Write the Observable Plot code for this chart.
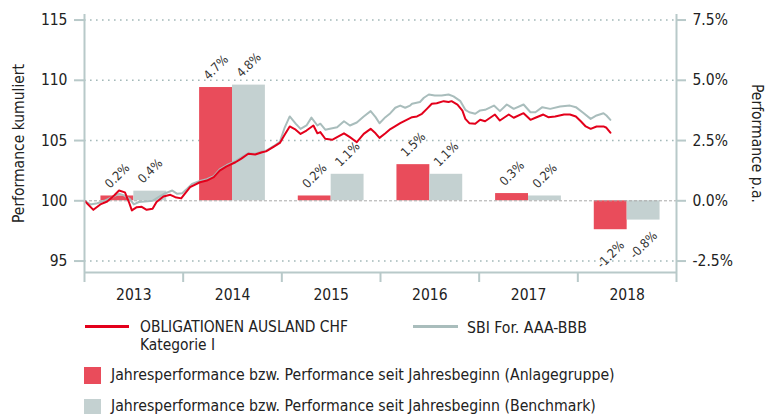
<!DOCTYPE html>
<html><head><meta charset="utf-8">
<script src="https://cdn.jsdelivr.net/npm/d3@7"></script>
<script src="https://cdn.jsdelivr.net/npm/@observablehq/plot@0.6"></script>
<style>
body{margin:0;background:#fff;font-family:"DejaVu Sans Condensed","DejaVu Sans",sans-serif;color:#222}
#wrap{position:relative;width:765px;height:414px;overflow:hidden}
#chart svg{display:block}
.lg{position:absolute;font-size:15.7px;line-height:16px;height:16px;white-space:nowrap;color:#222}
.sw{position:absolute}
</style></head><body><div id="wrap"><div id="chart"></div>
<div class="sw" style="left:85px;top:325px;width:44px;height:3px;background:#e3001b"></div>
<div class="lg" style="left:140px;top:318.5px;font-size:15.4px">OBLIGATIONEN AUSLAND CHF</div>
<div class="lg" style="left:140px;top:336.5px;font-size:15.4px">Kategorie I</div>
<div class="sw" style="left:413px;top:325px;width:45px;height:3px;background:#a9bdbc"></div>
<div class="lg" style="left:467px;top:319.5px">SBI For. AAA-BBB</div>
<div class="sw" style="left:84px;top:367px;width:17px;height:17px;background:#e94c5b"></div>
<div class="lg" style="left:111px;top:367px">Jahresperformance bzw. Performance seit Jahresbeginn (Anlagegruppe)</div>
<div class="sw" style="left:84px;top:399px;width:17px;height:17px;background:#c4d1d1"></div>
<div class="lg" style="left:111px;top:398px">Jahresperformance bzw. Performance seit Jahresbeginn (Benchmark)</div>
</div>
<script>
// ---- data ----
const years = [2013, 2014, 2015, 2016, 2017, 2018];
const fundYearly = [0.2, 4.7, 0.2, 1.5, 0.3, -1.2];   // % (Anlagegruppe)
const benchYearly = [0.4, 4.8, 1.1, 1.1, 0.2, -0.8];  // % (Benchmark)
const leftTicks = [95, 100, 105, 110, 115];
const rightTicksPct = [-2.5, 0, 2.5, 5, 7.5];

// cumulative performance [fractional year, index]
const fundSeries = [
 [2013.00,100.0],[2013.09,99.25],[2013.16,99.7],[2013.23,99.94],[2013.30,100.44],[2013.35,100.85],[2013.41,100.7],
 [2013.45,99.9],[2013.48,99.2],[2013.53,99.47],[2013.58,99.5],[2013.63,99.25],[2013.69,99.34],[2013.73,99.9],
 [2013.80,100.35],[2013.87,100.5],[2013.92,100.3],[2013.98,100.2],[2014.07,101.13],[2014.17,101.54],[2014.24,101.68],
 [2014.31,101.96],[2014.37,102.5],[2014.44,102.85],[2014.53,103.2],[2014.59,103.5],[2014.66,103.9],[2014.73,103.84],
 [2014.80,104.03],[2014.84,104.1],[2014.92,104.5],[2014.98,104.8],[2015.03,105.5],[2015.08,106.17],[2015.14,105.9],
 [2015.19,105.55],[2015.25,105.83],[2015.32,106.25],[2015.36,105.6],[2015.39,105.7],[2015.44,105.15],[2015.51,105.06],
 [2015.56,105.28],[2015.63,105.6],[2015.69,105.28],[2015.76,104.86],[2015.83,105.55],[2015.90,105.97],[2015.95,105.6],
 [2015.99,105.22],[2016.05,105.6],[2016.10,105.95],[2016.13,106.1],[2016.20,106.44],[2016.25,106.66],[2016.32,106.94],
 [2016.37,107.0],[2016.42,107.22],[2016.47,107.63],[2016.52,108.05],[2016.57,108.1],[2016.64,108.27],[2016.69,108.2],
 [2016.72,108.27],[2016.78,107.99],[2016.83,107.49],[2016.86,106.8],[2016.90,106.44],[2016.96,106.4],[2017.01,106.72],
 [2017.06,106.6],[2017.16,107.16],[2017.21,106.66],[2017.30,107.16],[2017.35,106.89],[2017.45,107.27],[2017.52,106.72],
 [2017.57,106.89],[2017.65,107.16],[2017.70,106.94],[2017.77,107.0],[2017.86,107.16],[2017.92,107.16],[2017.98,107.0],
 [2018.03,106.6],[2018.08,106.17],[2018.13,105.97],[2018.19,106.17],[2018.26,106.17],[2018.29,106.06],[2018.33,105.65]
];
const benchSeries = [
 [2013.00,100.0],[2013.06,99.7],[2013.13,99.8],[2013.20,100.0],[2013.28,100.3],[2013.35,100.58],[2013.40,100.45],
 [2013.46,100.15],[2013.50,99.7],[2013.55,99.9],[2013.61,99.94],[2013.69,100.0],[2013.75,100.3],[2013.82,100.63],
 [2013.89,100.85],[2013.94,100.58],[2013.99,100.63],[2014.04,101.0],[2014.09,101.4],[2014.17,101.65],[2014.24,101.8],
 [2014.31,102.05],[2014.37,102.6],[2014.44,102.95],[2014.53,103.3],[2014.59,103.6],[2014.66,103.95],[2014.73,103.9],
 [2014.80,104.1],[2014.84,104.15],[2014.92,104.55],[2014.98,104.9],[2015.03,106.1],[2015.08,107.0],[2015.14,106.4],
 [2015.19,105.97],[2015.25,106.25],[2015.30,106.9],[2015.36,106.25],[2015.39,106.4],[2015.44,105.9],[2015.56,106.1],
 [2015.63,106.6],[2015.69,106.25],[2015.76,106.5],[2015.83,107.0],[2015.90,107.44],[2015.95,106.94],[2015.99,106.44],
 [2016.05,106.94],[2016.10,107.27],[2016.15,107.72],[2016.20,107.9],[2016.25,107.72],[2016.30,107.9],[2016.32,108.05],
 [2016.40,108.2],[2016.44,108.55],[2016.49,108.82],[2016.55,108.74],[2016.62,108.74],[2016.69,108.82],[2016.74,108.66],
 [2016.81,108.27],[2016.86,107.55],[2016.90,107.35],[2016.96,107.22],[2017.01,107.5],[2017.06,107.55],[2017.15,107.9],
 [2017.21,107.44],[2017.28,107.99],[2017.35,107.63],[2017.45,107.99],[2017.52,107.35],[2017.57,107.35],[2017.64,107.77],
 [2017.72,107.63],[2017.82,107.82],[2017.92,107.9],[2017.98,107.77],[2018.06,107.27],[2018.13,106.8],[2018.19,107.08],
 [2018.26,107.27],[2018.29,107.08],[2018.33,106.72]
];

// ---- styling ----
const FONT = '"DejaVu Sans Condensed","DejaVu Sans",sans-serif';
const RED_LINE = "#e3001b", GREY_LINE = "#a9bdbc";
const RED_BAR = "#e94c5b", GREY_BAR = "#c4d1d1";
const AXIS = "#b8c9c9", GRID = "#a4b9b9";
const toLeft = p => 100 + 2 * p;   // % p.a. -> cumulative index scale
const fmt = p => p.toFixed(1) + "%";

const bars = years.flatMap((yr, i) => [
  {x1: yr + 1/6, x2: yr + 1/2, p: fundYearly[i], s: "fund"},
  {x1: yr + 1/2, x2: yr + 5/6, p: benchYearly[i], s: "bench"}
]);
const yMin = 94.05, yMax = 115.46;
const boundaries = [...years, years[years.length - 1] + 1];
const centers = years.map(y => y + 0.5);

const chart = Plot.plot({
  width: 765, height: 310,
  marginLeft: 84, marginRight: 89, marginTop: 14, marginBottom: 38,
  style: {fontFamily: FONT, fontSize: "15.5px", color: "#222", background: "#fff"},
  x: {domain: [2013, 2019], axis: null},
  y: {domain: [yMin, yMax], axis: null},
  marks: [
    Plot.ruleY(leftTicks.filter(v => v !== 100), {stroke: GRID, strokeWidth: 1.6, strokeDasharray: "1.6,4.4"}),
    Plot.rectY(bars.filter(d => d.s === "fund"), {x1: "x1", x2: "x2", y1: 100, y2: d => toLeft(d.p), fill: RED_BAR}),
    Plot.rectY(bars.filter(d => d.s === "bench"), {x1: "x1", x2: "x2", y1: 100, y2: d => toLeft(d.p), fill: GREY_BAR}),
    Plot.ruleY([100], {stroke: "#a8a8a8", strokeWidth: 1, strokeDasharray: "3,2"}),
    Plot.line(benchSeries, {x: d => d[0], y: d => d[1], stroke: GREY_LINE, strokeWidth: 2}),
    Plot.line(fundSeries, {x: d => d[0], y: d => d[1], stroke: RED_LINE, strokeWidth: 2}),
    Plot.text(bars.filter(d => d.p >= 0), {x: d => (d.x1 + d.x2) / 2, y: d => toLeft(d.p), text: d => fmt(d.p),
      rotate: -45, dy: -20, fontSize: 12.5, fill: "#333"}),
    Plot.text(bars.filter(d => d.p < 0), {x: d => (d.x1 + d.x2) / 2, y: d => toLeft(d.p), text: d => fmt(d.p),
      rotate: -45, dy: 25, fontSize: 12.5, fill: "#333"}),
    Plot.ruleX([2013, 2019], {stroke: AXIS, strokeWidth: 2}),
    Plot.ruleY([yMin], {stroke: AXIS, strokeWidth: 2}),
    Plot.axisY(leftTicks, {anchor: "left", tickSize: 10, tickPadding: 7, stroke: AXIS, strokeWidth: 2,
      fill: "#222", fontSize: 15.5, tickFormat: d => String(d), label: null}),
    Plot.axisY(rightTicksPct.map(toLeft), {anchor: "right", tickSize: 9, tickPadding: 7, stroke: AXIS, strokeWidth: 2,
      fill: "#222", fontSize: 15.5, tickFormat: v => ((v - 100) / 2).toFixed(1) + "%", label: null}),
    Plot.axisX(boundaries, {anchor: "bottom", tickSize: 10, stroke: AXIS, strokeWidth: 2, tickFormat: () => "", label: null}),
    Plot.axisX(centers, {anchor: "bottom", tickSize: 0, tickPadding: 16, fill: "#222", fontSize: 15.5,
      tickFormat: d => String(Math.floor(d)), label: null}),
    Plot.text(["Performance kumuliert"], {text: d => d, frameAnchor: "left", textAnchor: "middle", lineAnchor: "middle",
      rotate: -90, dx: -65, fontSize: 15.5, fill: "#222"}),
    Plot.text(["Performance p.a."], {text: d => d, frameAnchor: "right", textAnchor: "middle", lineAnchor: "middle",
      rotate: 90, dx: 80, fontSize: 15.5, fill: "#222"})
  ]
});
document.getElementById("chart").appendChild(chart);
</script></body></html>
